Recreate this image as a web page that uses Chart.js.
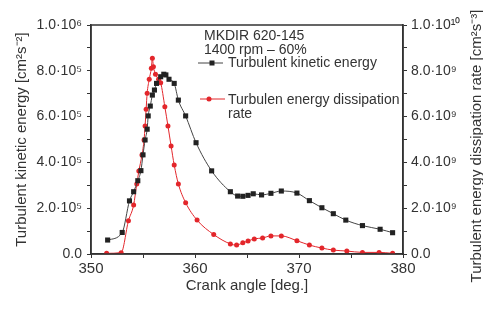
<!DOCTYPE html>
<html>
<head>
<meta charset="utf-8">
<script src="https://cdn.jsdelivr.net/npm/chart.js@4"></script>
<style>
  html, body { margin: 0; padding: 0; background: #fff; }
  #wrap { width: 483px; height: 309px; }
</style>
</head>
<body>
<div id="wrap"><canvas id="c" width="483" height="309"></canvas></div>
<script>
// crank angle [deg.] and turbulent kinetic energy [cm2 s-2]
const tkeAngle = [351.6, 353.0, 353.7, 354.1, 354.5, 354.8, 355.0, 355.2, 355.4, 355.5, 355.7, 355.9, 356.1, 356.3, 356.7, 357.0, 357.2, 357.5, 358.0, 358.4, 359.1, 360.1, 361.6, 363.4, 364.1, 364.6, 365.1, 365.6, 366.4, 367.3, 368.3, 369.8, 371.0, 372.2, 373.3, 374.5, 376.1, 377.8, 379.0];
const tke = [6.1e4, 9.4e4, 2.32e5, 2.72e5, 3.2e5, 3.64e5, 4.33e5, 4.98e5, 5.45e5, 6.03e5, 6.46e5, 6.94e5, 7.16e5, 7.45e5, 7.74e5, 7.85e5, 7.82e5, 7.63e5, 7.45e5, 6.72e5, 6.03e5, 4.86e5, 3.63e5, 2.72e5, 2.53e5, 2.52e5, 2.56e5, 2.63e5, 2.58e5, 2.65e5, 2.75e5, 2.66e5, 2.33e5, 2.02e5, 1.76e5, 1.48e5, 1.24e5, 1.08e5, 0.93e5];

// crank angle [deg.] and dissipation rate [cm2 s-3]
const epsAngle = [351.5, 352.9, 353.6, 354.1, 354.4, 354.6, 354.9, 355.1, 355.2, 355.3, 355.4, 355.6, 355.8, 355.9, 356.0, 356.2, 356.5, 356.7, 357.1, 357.4, 357.7, 358.0, 358.4, 359.1, 360.2, 361.8, 363.4, 364.0, 364.6, 365.1, 365.7, 366.5, 367.3, 368.3, 369.8, 371.0, 372.2, 373.3, 374.6, 376.1, 377.7, 379.0];
const eps = [0.03e9, 0.06e9, 1.45e9, 2.14e9, 3.06e9, 3.62e9, 4.32e9, 4.98e9, 5.59e9, 6.32e9, 7.02e9, 7.63e9, 8.11e9, 8.55e9, 8.18e9, 7.85e9, 7.63e9, 7.48e9, 6.43e9, 5.59e9, 4.72e9, 3.89e9, 3.06e9, 2.24e9, 1.48e9, 0.85e9, 0.44e9, 0.39e9, 0.49e9, 0.57e9, 0.66e9, 0.70e9, 0.79e9, 0.79e9, 0.58e9, 0.39e9, 0.26e9, 0.17e9, 0.13e9, 0.07e9, 0.07e9, 0.03e9];

const xTicks = ['350', '360', '370', '380'];
const leftTicks = ['0.0', '2.0·10⁵', '4.0·10⁵', '6.0·10⁵', '8.0·10⁵', '1.0·10⁶'];
const rightTicks = ['0.0', '2.0·10⁹', '4.0·10⁹', '6.0·10⁹', '8.0·10⁹', '1.0·10¹⁰'];

const FONT = '"Liberation Sans", Arial, Helvetica, sans-serif';
const INK = '#333';
const BLACK = '#222';
const RED = '#e3262b';

function toPoints(xs, ys) {
    return xs.map((x, i) => ({ x, y: ys[i] }));
}

const frameAndLegend = {
    id: 'frameAndLegend',
    afterDraw(chart) {
        const { ctx, chartArea: a } = chart;
        ctx.save();
        ctx.strokeStyle = INK;
        ctx.lineWidth = 1.5;
        ctx.strokeRect(a.left, a.top, a.right - a.left, a.bottom - a.top);

        ctx.fillStyle = INK;
        ctx.font = '14px ' + FONT;
        ctx.textBaseline = 'middle';
        ctx.fillText('MKDIR 620-145', 204, 36);
        ctx.fillText('1400 rpm – 60%', 204, 50);

        // legend samples
        const ds = chart.data.datasets;
        ctx.lineWidth = 1;
        ctx.strokeStyle = ds[0].borderColor;
        ctx.beginPath(); ctx.moveTo(198, 63); ctx.lineTo(223, 63); ctx.stroke();
        ctx.fillStyle = ds[0].pointBackgroundColor;
        ctx.fillRect(209.5, 60.5, 5, 5);
        ctx.strokeStyle = ds[1].borderColor;
        ctx.beginPath(); ctx.moveTo(200, 99); ctx.lineTo(225, 99); ctx.stroke();
        ctx.fillStyle = ds[1].pointBackgroundColor;
        ctx.beginPath(); ctx.arc(209, 99, 2.5, 0, Math.PI * 2); ctx.fill();

        ctx.fillStyle = INK;
        ctx.fillText(ds[0].label, 228, 63);
        ctx.fillText('Turbulen energy dissipation', 228, 100);
        ctx.fillText('rate', 228, 114);

        // right axis title, read bottom to top like the left one
        ctx.translate(477, 146);
        ctx.rotate(-Math.PI / 2);
        ctx.textAlign = 'center';
        ctx.font = '15px ' + FONT;
        ctx.fillText('Turbulent energy dissipation rate [cm²s⁻³]', 0, 0);
        ctx.restore();
    },
};

new Chart(document.getElementById('c'), {
    type: 'line',
    data: {
        datasets: [
            {
                label: 'Turbulent kinetic energy',
                data: toPoints(tkeAngle, tke),
                yAxisID: 'y',
                borderColor: '#444',
                borderWidth: 1,
                pointStyle: 'rect',
                pointRadius: 3.6,
                pointBackgroundColor: BLACK,
                pointBorderWidth: 0,
                cubicInterpolationMode: 'monotone',
            },
            {
                label: 'Turbulen energy dissipation rate',
                data: toPoints(epsAngle, eps),
                yAxisID: 'y1',
                borderColor: RED,
                borderWidth: 1,
                pointStyle: 'circle',
                pointRadius: 2.5,
                pointBackgroundColor: RED,
                pointBorderWidth: 0,
                cubicInterpolationMode: 'monotone',
            },
        ],
    },
    options: {
        responsive: false,
        animation: false,
        layout: { padding: { top: 25, right: 0, bottom: 0, left: 0 } },
        plugins: { legend: { display: false }, tooltip: { enabled: false } },
        scales: {
            x: {
                type: 'linear',
                min: 350,
                max: 380,
                ticks: {
                    stepSize: 5,
                    color: INK,
                    font: { family: FONT, size: 15 },
                    padding: 2,
                    maxRotation: 0,
                    callback: (v) => (v % 10 === 0 ? xTicks[(v - 350) / 10] : ''),
                },
                grid: { drawOnChartArea: false, color: INK, tickLength: 4 },
                border: { color: INK, width: 1.5 },
                title: {
                    display: true,
                    text: 'Crank angle [deg.]',
                    color: INK,
                    font: { family: FONT, size: 15 },
                    padding: { top: 14, bottom: 14 },
                },
                afterFit: (s) => { s.height = 55; },
            },
            y: {
                position: 'left',
                min: 0,
                max: 1e6,
                ticks: {
                    stepSize: 1e5,
                    color: INK,
                    font: { family: FONT, size: 14 },
                    padding: 5,
                    callback: (v) => (Math.round(v / 1e5) % 2 === 0 ? leftTicks[Math.round(v / 2e5)] : ''),
                },
                grid: { drawOnChartArea: false, color: INK, tickLength: 4 },
                border: { color: INK, width: 1.5 },
                title: {
                    display: true,
                    text: 'Turbulent kinetic energy [cm²s⁻²]',
                    color: INK,
                    font: { family: FONT, size: 15 },
                    padding: { top: 13, bottom: 13 },
                },
                afterFit: (s) => { s.width = 91; },
            },
            y1: {
                position: 'right',
                min: 0,
                max: 1e10,
                ticks: {
                    stepSize: 1e9,
                    color: INK,
                    font: { family: FONT, size: 14 },
                    padding: 4,
                    callback: (v) => (Math.round(v / 1e9) % 2 === 0 ? rightTicks[Math.round(v / 2e9)] : ''),
                },
                grid: { drawOnChartArea: false, color: INK, tickLength: 4 },
                border: { color: INK, width: 1.5 },
                afterFit: (s) => { s.width = 80; },
            },
        },
    },
    plugins: [frameAndLegend],
});
</script>
</body>
</html>
